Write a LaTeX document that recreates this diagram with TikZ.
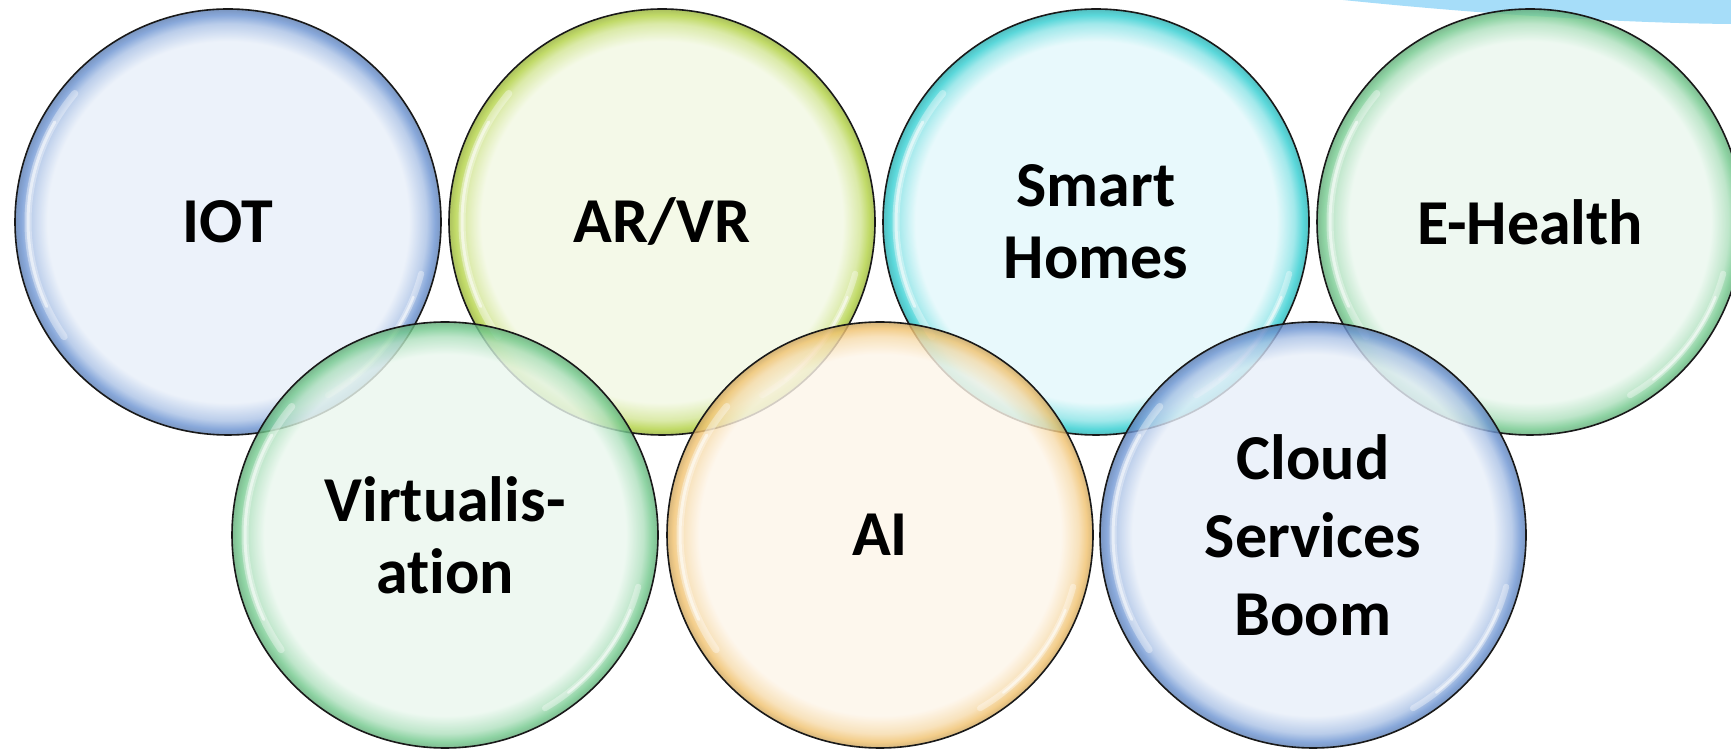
\documentclass[tikz,border=0pt]{standalone}
\usepackage{fontspec}
\setmainfont{Carlito}[Ligatures=NoCommon]
\definecolor{iotin}{HTML}{E8EFF9}
\definecolor{iotrim}{HTML}{6E95D2}
\definecolor{arin}{HTML}{F2F8E3}
\definecolor{arrim}{HTML}{B3D246}
\definecolor{smartin}{HTML}{E3F8FB}
\definecolor{smartrim}{HTML}{36CFD2}
\definecolor{greenin}{HTML}{EAF7EE}
\definecolor{greenrim}{HTML}{74C98E}
\definecolor{aiin}{HTML}{FDF5E9}
\definecolor{airim}{HTML}{F0C270}
\definecolor{skyband}{HTML}{A6DDF9}
\colorlet{bubin}{white}
\colorlet{bubrim}{gray}
\pgfdeclareradialshading[bubin,bubrim]{bubble}{\pgfpoint{0bp}{0bp}}{%
  color(0bp)=(bubin); color(21.2bp)=(bubin); color(23.3bp)=(bubin!50!bubrim);
  color(24.3bp)=(bubrim); color(25bp)=(bubrim!85!black); color(50bp)=(bubrim!85!black)}
\tikzset{
  bubble/.style 2 args={circle, minimum size=426pt, inner sep=0pt,
    /utils/exec={\colorlet{bubin}{#1}\colorlet{bubrim}{#2}},
    shading=bubble, fill opacity=0.82, text opacity=1,
    draw=black!90, draw opacity=1, line width=1.6pt,
    align=center, text=black,
    font=\bfseries\fontsize{64}{72}\selectfont,
    path picture={
      \draw[white, line width=7pt, opacity=0.35, line cap=round]
        (path picture bounding box.center) ++(140:200) arc (140:215:200);
      \draw[white, line width=3pt, opacity=0.55, line cap=round]
        (path picture bounding box.center) ++(150:200) arc (150:205:200);
      \draw[white, line width=6pt, opacity=0.35, line cap=round]
        (path picture bounding box.center) ++(-60:200) arc (-60:-15:200);
      \draw[white, line width=2.5pt, opacity=0.55, line cap=round]
        (path picture bounding box.center) ++(-52:200) arc (-52:-22:200);
    }},
}
\begin{document}
\begin{tikzpicture}[x=1pt,y=1pt]
  \useasboundingbox (0,0) rectangle (1731,752);
  \fill[skyband] (1343,752) .. controls (1480,738) and (1620,729) .. (1731,728)
    -- (1731,752) -- cycle;
  \draw
    (228,530) node[bubble={iotin}{iotrim}] (iot) {IOT}
    (662,530) node[bubble={arin}{arrim}] (arvr) {AR/VR}
    (1096,530) node[bubble={smartin}{smartrim}] (smart) {Smart\\Homes}
    (1530,530) node[bubble={greenin}{greenrim}] (ehealth) {E-Health};
  \draw
    (445,217) node[bubble={greenin}{greenrim}] (virt) {Virtualis-\\ation}
    (880,217) node[bubble={aiin}{airim}] (ai) {AI}
    (1313,217) node[bubble={iotin}{iotrim}, font=\bfseries\fontsize{64}{78}\selectfont] (cloud) {Cloud\\Services\\Boom};
\end{tikzpicture}
\end{document}
